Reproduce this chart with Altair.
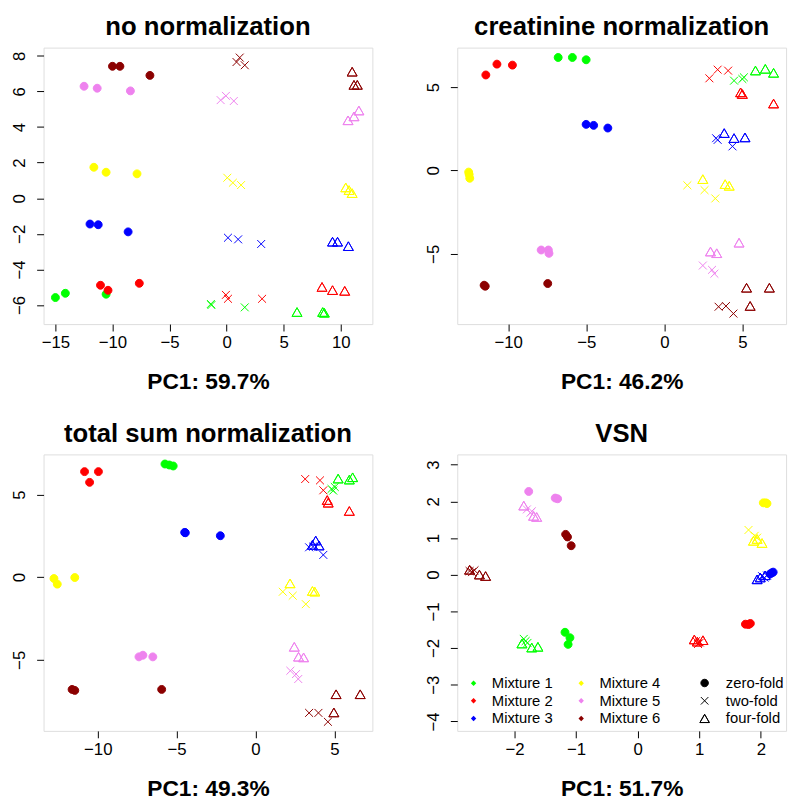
import altair as alt
import pandas as pd

mixtures = ["Mixture 1", "Mixture 2", "Mixture 3", "Mixture 4", "Mixture 5", "Mixture 6"]
folds = ["zero-fold", "two-fold", "four-fold"]
mix_colors = ["#00FF00", "#FF0000", "#0000FF", "#FFFF00", "#EE82EE", "#8B0000"]

panel_titles = ["no normalization", "creatinine normalization", "total sum normalization", "VSN"]
pc1_titles = ["PC1: 59.7%", "PC1: 46.2%", "PC1: 49.3%", "PC1: 51.7%"]

# order: Mixture 1..6, each zero/two/four-fold, 3 replicates
nonorm_x = [-15.0, -14.13, -10.56, -1.38, -1.33, 1.59, 6.17, 8.42, 8.56,
            -11.05, -10.39, -7.65, -0.06, 0.12, 3.11, 8.36, 9.28, 10.35,
            -11.97, -11.25, -8.63, 0.12, 1.01, 3.03, 9.28, 9.72, 10.67,
            -11.63, -10.56, -7.85, 0.06, 0.55, 1.27, 10.44, 10.73, 11.0,
            -12.49, -11.34, -8.43, -0.52, -0.06, 0.63, 10.64, 11.16, 11.59,
            -10.0, -9.35, -6.72, 0.87, 1.15, 1.59, 11.0, 11.16, 11.45]
nonorm_y = [-5.58, -5.34, -5.39, -5.94, -6.0, -6.13, -6.4, -6.4, -6.44,
            -4.89, -5.17, -4.78, -5.43, -5.65, -5.65, -4.99, -5.17, -5.21,
            -1.45, -1.49, -1.89, -2.22, -2.31, -2.57, -2.45, -2.45, -2.7,
            1.74, 1.46, 1.37, 1.15, 0.87, 0.74, 0.6, 0.45, 0.28,
            6.29, 6.18, 6.03, 5.51, 5.75, 5.46, 4.37, 4.59, 4.92,
            7.41, 7.41, 6.9, 7.65, 7.9, 7.47, 7.1, 6.36, 6.36]

creat_x = [-6.8, -5.89, -5.01, 4.46, 4.99, 5.09, 5.83, 6.46, 6.99,
           -11.43, -10.72, -9.73, 2.88, 3.41, 4.08, 4.88, 4.99, 6.99,
           -5.01, -4.53, -3.62, 3.31, 3.41, 4.36, 3.83, 4.46, 5.16,
           -12.53, -12.46, -12.5, 1.47, 2.57, 3.26, 2.46, 3.89, 4.15,
           -7.89, -7.43, -7.39, 2.46, 3.05, 3.2, 2.95, 3.35, 4.78,
           -11.54, -11.47, -7.47, 3.47, 3.94, 4.42, 5.26, 5.49, 6.72]
creat_y = [6.77, 6.77, 6.63, 5.38, 5.48, 5.58, 5.98, 6.08, 5.84,
           5.72, 6.37, 6.31, 5.52, 6.04, 5.98, 4.67, 4.57, 4.0,
           2.76, 2.70, 2.54, 1.93, 1.83, 1.44, 2.23, 1.93, 1.97,
           -0.1, -0.47, -0.24, -0.89, -1.18, -1.68, -0.53, -0.83, -0.93,
           -4.77, -4.77, -4.97, -5.7, -5.96, -6.19, -4.87, -4.97, -4.34,
           -6.88, -6.94, -6.78, -8.17, -8.13, -8.58, -7.04, -8.13, -7.04]

tsum_x = [-5.74, -5.47, -5.22, 4.82, 4.93, 5.03, 5.24, 5.95, 6.16,
          -10.84, -9.96, -10.52, 3.15, 4.09, 4.3, 4.55, 4.61, 5.95,
          -4.49, -4.45, -2.23, 3.4, 3.65, 4.3, 3.82, 3.61, 4.03,
          -12.78, -12.57, -11.46, 1.73, 2.36, 3.19, 2.19, 3.61, 3.76,
          -7.39, -7.14, -6.51, 2.21, 2.57, 2.71, 2.46, 2.73, 3.05,
          -11.63, -11.46, -5.95, 3.4, 3.99, 4.59, 5.11, 4.97, 6.64]
tsum_y = [6.85, 6.79, 6.73, 5.34, 5.24, 5.46, 5.96, 5.9, 6.04,
          6.39, 6.39, 5.74, 5.94, 5.86, 5.26, 4.66, 4.5, 4.0,
          2.71, 2.69, 2.51, 1.81, 1.85, 1.35, 2.21, 1.95, 1.91,
          -0.08, -0.42, -0.02, -0.88, -1.12, -1.63, -0.38, -0.84, -0.88,
          -4.82, -4.72, -4.82, -5.66, -5.86, -6.16, -4.22, -4.82, -4.86,
          -6.79, -6.85, -6.79, -8.21, -8.21, -8.75, -7.09, -8.19, -7.09]

vsn_x = [-1.18, -1.1, -1.13, -1.85, -1.82, -1.79, -1.88, -1.72, -1.62,
         1.75, 1.8, 1.83, 0.95, 0.98, 1.01, 0.92, 1.06, 0.97,
         2.18, 2.2, 2.15, 2.02, 2.1, 2.06, 1.99, 2.07, 1.94,
         2.04, 2.08, 2.1, 1.8, 1.9, 1.94, 1.88, 1.94, 2.02,
         -1.77, -1.34, -1.30, -1.80, -1.74, -1.72, -1.85, -1.69, -1.64,
         -1.17, -1.14, -1.08, -2.73, -2.69, -2.65, -2.73, -2.57, -2.47]
vsn_y = [-1.57, -1.72, -1.9, -1.75, -1.81, -1.86, -1.88, -1.99, -1.97,
         -1.35, -1.36, -1.33, -1.81, -1.89, -1.85, -1.77, -1.79, -1.83,
         0.05, 0.07, 0.02, -0.04, -0.02, -0.08, -0.08, -0.02, -0.13,
         1.96, 1.96, 1.94, 1.22, 1.06, 1.01, 0.92, 0.97, 0.86,
         2.27, 2.09, 2.07, 1.78, 1.69, 1.73, 1.88, 1.6, 1.57,
         1.1, 1.03, 0.79, 0.1, 0.07, 0.12, 0.13, 0.0, -0.04]

x_domains = [[-16.04, 12.77], [-13.26, 7.79], [-13.44, 7.41], [-2.93, 2.41]]
y_domains = [[-7.07, 8.46], [-9.21, 7.36], [-9.3, 7.43], [-4.26, 3.28]]
x_ticks = [[-15, -10, -5, 0, 5, 10], [-10, -5, 0, 5], [-10, -5, 0, 5], [-2, -1, 0, 1, 2]]
y_ticks = [[-6, -4, -2, 0, 2, 4, 6, 8], [-5, 0, 5], [-5, 0, 5], [-4, -3, -2, -1, 0, 1, 2, 3]]

panel_x = [nonorm_x, creat_x, tsum_x, vsn_x]
panel_y = [nonorm_y, creat_y, tsum_y, vsn_y]

# symbol shapes (R pch 16, 4, 2)
circle_path = "M-0.8,0A0.8,0.8,0,1,0,0.8,0A0.8,0.8,0,1,0,-0.8,0Z"
cross_path = "M-0.8,-0.8L0.8,0.8M-0.8,0.8L0.8,-0.8"
tri_path = "M0,-0.9L1,0.85L-1,0.85ZM0,-0.9L-1,0.85L1,0.85Z"

FONT = "Liberation Sans"


def make_df(xs, ys):
    rows = []
    k = 0
    for m in mixtures:
        for f in folds:
            for r in range(3):
                rows.append({"mixture": m, "fold": f, "pc1": xs[k], "pc2": ys[k]})
                k += 1
    return pd.DataFrame(rows)


def panel(i):
    df = make_df(panel_x[i], panel_y[i])
    return alt.Chart(df, title=alt.TitleParams(
        panel_titles[i], fontSize=26, font=FONT, fontWeight="bold", color="black",
        anchor="middle", baseline="alphabetic", offset=-13)).mark_point(
        size=100, strokeWidth=1, opacity=1
    ).encode(
        x=alt.X("pc1:Q", title=pc1_titles[i],
                scale=alt.Scale(domain=x_domains[i], nice=False, zero=False),
                axis=alt.Axis(values=x_ticks[i], grid=False, domain=False, tickSize=7,
                              tickColor="black", labelFont=FONT, labelFontSize=17,
                              labelColor="black", labelPadding=4, titleFont=FONT,
                              titleFontSize=23, titleFontWeight="bold", titleColor="black",
                              titlePadding=20)),
        y=alt.Y("pc2:Q", title=None,
                scale=alt.Scale(domain=y_domains[i], nice=False, zero=False),
                axis=alt.Axis(values=y_ticks[i], grid=False, domain=False, tickSize=7,
                              tickColor="black", labelFont=FONT, labelFontSize=17,
                              labelColor="black", labelAngle=270, labelAlign="center",
                              labelBaseline="bottom", labelPadding=8)),
        stroke=alt.Stroke("mixture:N", scale=alt.Scale(domain=mixtures, range=mix_colors),
                          legend=None),
        fill=alt.Fill("mixture:N", title=None,
                      scale=alt.Scale(domain=mixtures, range=mix_colors),
                      legend=alt.Legend(orient="none", legendX=428, legendY=636, columns=2,
                                        columnPadding=21, rowPadding=2, symbolType="diamond",
                                        symbolSize=30, symbolStrokeWidth=0, labelFont=FONT,
                                        labelFontSize=15, labelColor="black", labelOffset=11)),
        shape=alt.Shape("fold:N", title=None,
                        scale=alt.Scale(domain=folds, range=[circle_path, cross_path, tri_path]),
                        legend=alt.Legend(orient="none", legendX=662, legendY=636,
                                          rowPadding=2, symbolSize=90, symbolFillColor="black",
                                          symbolStrokeColor="black", symbolStrokeWidth=1,
                                          labelFont=FONT, labelFontSize=15, labelColor="black",
                                          labelOffset=14)),
    ).properties(width=333, height=280)


chart = alt.concat(
    panel(0), panel(1), panel(2), panel(3), columns=2,
    spacing={"row": 132, "column": 86}, bounds="flush"
).properties(
    padding={"left": 2, "top": 0, "right": 5, "bottom": 5}
).configure_view(
    stroke="black", strokeWidth=1
).configure(background="white")

chart.save("out.html", embed_options={"renderer": "svg", "actions": False})
